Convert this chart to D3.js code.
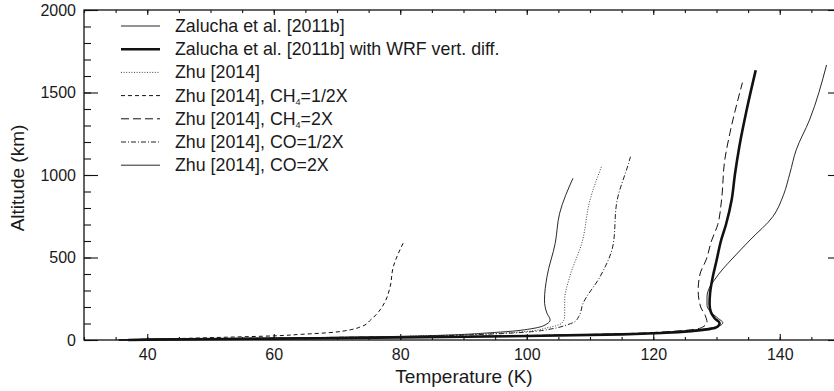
<!DOCTYPE html>
<html>
<head>
<meta charset="utf-8">
<script src="https://cdn.jsdelivr.net/npm/d3@7"></script>
<style>
  body { margin: 0; background: #fff; }
  text { font-family: "Liberation Sans", Arial, Helvetica, sans-serif; fill: #1a1a1a; }
</style>
</head>
<body>
<svg width="834" height="391"></svg>
<script>
// [temperature K, altitude km]
const zalucha = [[35.5,0],[40,3],[60,10],[80,17],[100,26],[115,36],[122,46],[126,57],[129,72],[130.6,88],[131,105],[130.3,130],[129.2,165],[128.5,210],[128.5,260],[128.8,310],[129.6,360],[131,430],[132.6,497],[135.3,606],[138.9,747],[140.6,880],[141.6,1010],[142.6,1152],[144.7,1333],[147.4,1667]];
const zaluchaWRF = [[37,0],[40,2],[60,8],[80,15],[100,24],[115,34],[122,44],[126,54],[128.8,66],[130.2,82],[130.5,102],[129.7,132],[129.1,170],[128.9,220],[129,290],[129.4,380],[130,480],[130.7,600],[131.5,700],[132.4,850],[132.9,1000],[133.6,1170],[134.8,1400],[136.2,1635]];
const zhu = [[35.5,0],[40,4],[60,12],[80,22],[95,40],[100,52],[103,72],[105.5,101],[106,141],[106,242],[106.8,384],[108.7,586],[110,848],[111.8,1050]];
const zhuCH4half = [[35.5,0],[40,4],[53.6,18],[60,25],[64.2,34],[68.9,45],[72.1,62],[73.9,82],[75.3,121],[76.6,172],[77.6,232],[78.4,323],[78.9,444],[79.7,525],[80.5,590]];
const zhuCH4double = [[36,0],[40,3],[60,9],[80,17],[100,27],[115,38],[122,50],[126,62],[127.8,78],[128.5,108],[128.2,150],[127.5,200],[127.1,300],[127.4,400],[128.4,490],[129.2,600],[130.2,700],[130.8,850],[131.3,1090],[132.1,1250],[134.1,1560]];
const zhuCOhalf = [[35.5,0],[40,4],[60,12],[80,21],[95,37],[100,48],[104,68],[106.3,91],[107.6,111],[108.2,141],[108.9,222],[111.6,384],[113.7,586],[114.2,828],[116.1,1071],[116.4,1111]];
const zhuCOdouble = [[35.5,0],[40,4],[60,12],[80,22],[95.8,48],[101,70],[103.2,98],[103.7,121],[103.2,162],[102.8,242],[103.2,384],[104.5,586],[105.2,768],[107.3,980]];

const legendLabels = ["Zalucha et al. [2011b]", "Zalucha et al. [2011b] with WRF vert. diff.", "Zhu [2014]",
  "Zhu [2014], CH|4|=1/2X", "Zhu [2014], CH|4|=2X", "Zhu [2014], CO=1/2X", "Zhu [2014], CO=2X"];

const xTicks = [40, 60, 80, 100, 120, 140];
const yTicks = [0, 500, 1000, 1500, 2000];

const series = [
  {data: zalucha, width: 0.9, dash: null, stroke: "#111"},
  {data: zaluchaWRF, width: 2.6, dash: null, stroke: "#111"},
  {data: zhu, width: 1, dash: "1,1.6", stroke: "#444"},
  {data: zhuCH4half, width: 1, dash: "4,3", stroke: "#111"},
  {data: zhuCH4double, width: 1, dash: "8,4", stroke: "#111"},
  {data: zhuCOhalf, width: 1, dash: "5,2,1,2", stroke: "#222"},
  {data: zhuCOdouble, width: 0.9, dash: null, stroke: "#111"}
];

const svg = d3.select("svg");
const plotL = 84, plotR = 843, plotT = 10, plotB = 340;

const x = d3.scaleLinear().domain([30, 150]).range([plotL, plotR]);
const y = d3.scaleLinear().domain([0, 2000]).range([plotB, plotT]);

// frame
svg.append("rect")
    .attr("x", plotL).attr("y", plotT)
    .attr("width", plotR - plotL).attr("height", plotB - plotT)
    .attr("fill", "none").attr("stroke", "#111").attr("stroke-width", 1.3);

function styleAxis(g) {
  g.select(".domain").remove();
  g.selectAll("line").attr("stroke", "#111").attr("stroke-width", 1.1);
  g.selectAll("text").attr("fill", "#1a1a1a").style("font-size", "16px");
}

// bottom
svg.append("g").attr("transform", `translate(0,${plotB})`)
    .call(d3.axisBottom(x).tickValues(d3.range(30, 151, 5)).tickSize(-3).tickFormat(""))
    .call(styleAxis);
svg.append("g").attr("transform", `translate(0,${plotB})`)
    .call(d3.axisBottom(x).tickValues(xTicks).tickSize(-6).tickPadding(9).tickFormat(d3.format("d")))
    .call(styleAxis);
// top
svg.append("g").attr("transform", `translate(0,${plotT})`)
    .call(d3.axisTop(x).tickValues(d3.range(30, 151, 5)).tickSize(-3).tickFormat(""))
    .call(styleAxis);
svg.append("g").attr("transform", `translate(0,${plotT})`)
    .call(d3.axisTop(x).tickValues(xTicks).tickSize(-5).tickFormat(""))
    .call(styleAxis);
// left
svg.append("g").attr("transform", `translate(${plotL},0)`)
    .call(d3.axisLeft(y).tickValues(d3.range(0, 2001, 100)).tickSize(-7).tickFormat(""))
    .call(styleAxis);
svg.append("g").attr("transform", `translate(${plotL},0)`)
    .call(d3.axisLeft(y).tickValues(yTicks).tickSize(-14).tickPadding(8).tickFormat(d3.format("d")))
    .call(styleAxis);
// right
svg.append("g").attr("transform", `translate(${plotR},0)`)
    .call(d3.axisRight(y).tickValues(d3.range(0, 2001, 100)).tickSize(-7).tickFormat(""))
    .call(styleAxis);
svg.append("g").attr("transform", `translate(${plotR},0)`)
    .call(d3.axisRight(y).tickValues(yTicks).tickSize(-15).tickFormat(""))
    .call(styleAxis);

// axis titles
svg.append("text")
    .attr("x", 464).attr("y", 383)
    .attr("text-anchor", "middle")
    .style("font-size", "19px")
    .text("Temperature (K)");
svg.append("text")
    .attr("transform", "translate(24,178) rotate(-90)")
    .attr("text-anchor", "middle")
    .style("font-size", "19px")
    .text("Altitude (km)");

// profiles
const line = d3.line()
    .x(d => x(d[0]))
    .y(d => y(d[1]))
    .curve(d3.curveMonotoneY);

svg.append("g")
  .selectAll("path")
  .data(series)
  .join("path")
    .attr("d", d => line(d.data))
    .attr("fill", "none")
    .attr("stroke", d => d.stroke)
    .attr("stroke-width", d => d.width)
    .attr("stroke-dasharray", d => d.dash)
    .attr("stroke-linejoin", "round");

// legend
const lg = svg.append("g");
series.forEach((s, i) => {
  const ly = 26 + i * 23.2;
  lg.append("line")
      .attr("x1", 121).attr("x2", 160)
      .attr("y1", ly).attr("y2", ly)
      .attr("stroke", s.stroke)
      .attr("stroke-width", s.width)
      .attr("stroke-dasharray", s.dash);
  const t = lg.append("text")
      .attr("x", 175).attr("y", ly + 6)
      .style("font-size", "17.8px");
  const parts = legendLabels[i].split("|");
  if (parts.length === 1) {
    t.text(parts[0]);
  } else {
    t.append("tspan").text(parts[0]);
    t.append("tspan").attr("dy", 3).style("font-size", "9px").text(parts[1]);
    t.append("tspan").attr("dy", -3).text(parts[2]);
  }
});
</script>
</body>
</html>
